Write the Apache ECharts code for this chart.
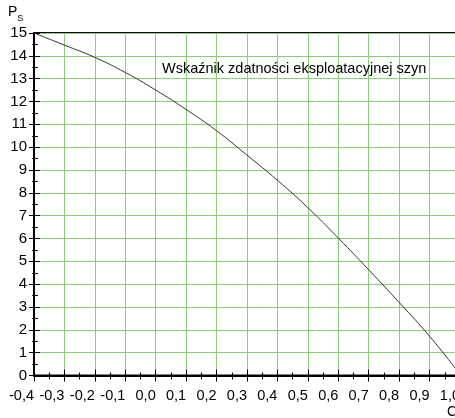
<!DOCTYPE html>
<html>
<head>
<meta charset="utf-8">
<script src="https://cdn.jsdelivr.net/npm/echarts@6/dist/echarts.min.js"></script>
<style>
  html, body { margin: 0; padding: 0; background: #fff; }
  #chart { width: 455px; height: 418px; }
</style>
</head>
<body>
<div id="chart"></div>
<script>
// Rail serviceability index P_S as a function of C
const cValues = [-0.4, -0.3, -0.2, -0.1, 0.0, 0.1, 0.2, 0.3, 0.4, 0.5, 0.6, 0.7, 0.8, 0.9, 1.0];
const psValues = [15.0, 14.47, 13.93, 13.27, 12.5, 11.65, 10.72, 9.65, 8.55, 7.35, 6.02, 4.63, 3.2, 1.72, 0.05];
const xTickLabels = ['-0,4', '-0,3', '-0,2', '-0,1', '0,0', '0,1', '0,2', '0,3', '0,4', '0,5', '0,6', '0,7', '0,8', '0,9', '1,0'];
const yTickLabels = ['0', '1', '2', '3', '4', '5', '6', '7', '8', '9', '10', '11', '12', '13', '14', '15'];
const seriesTitle = 'Wskaźnik zdatności eksploatacyjnej szyn';

const TEXT_FONT = 'Liberation Sans, Arial, sans-serif';
const GRID_GREEN = '#8ccf78';

const chart = echarts.init(document.getElementById('chart'), null, { renderer: 'canvas' });

const xBase = { type: 'value', min: -0.4, max: 1.0, interval: 0.1, position: 'bottom', gridIndex: 0 };
const yBase = { type: 'value', min: 0, max: 15, interval: 1, position: 'left', gridIndex: 0 };

chart.setOption({
  animation: false,
  backgroundColor: '#fff',
  grid: {
    left: 34, top: 33, right: -5, bottom: 42.5,
    outerBoundsMode: 'none', containLabel: false,
    show: true, borderColor: '#000', borderWidth: 2, backgroundColor: 'transparent'
  },
  xAxis: [
    Object.assign({}, xBase, {
      axisLine: { show: true, onZero: false, lineStyle: { color: '#000', width: 2 } },
      axisTick: { show: true, inside: false, length: 6, lineStyle: { color: '#000', width: 1 } },
      minorTick: { show: true, splitNumber: 2, length: 4, lineStyle: { color: '#000', width: 1 } },
      splitLine: { show: true, lineStyle: { color: GRID_GREEN, width: 1 } },
      axisLabel: {
        margin: 13, color: '#000', fontFamily: TEXT_FONT, fontSize: 14.5,
        align: 'right', showMaxLabel: true, hideOverlap: false,
        formatter: v => xTickLabels[Math.round((v + 0.4) * 10)]
      }
    }),
    Object.assign({}, xBase, {
      axisLine: { show: false, onZero: false },
      axisTick: { show: true, inside: true, length: 6, lineStyle: { color: '#000', width: 1 } },
      minorTick: { show: true, splitNumber: 2, length: 3, lineStyle: { color: '#000', width: 1 } },
      splitLine: { show: false },
      axisLabel: { show: false }
    })
  ],
  yAxis: [
    Object.assign({}, yBase, {
      axisLine: { show: true, onZero: false, lineStyle: { color: '#000', width: 2 } },
      axisTick: { show: true, inside: false, length: 5, lineStyle: { color: '#000', width: 1 } },
      minorTick: { show: true, splitNumber: 2, length: 2, lineStyle: { color: '#000', width: 1 } },
      splitLine: { show: true, lineStyle: { color: GRID_GREEN, width: 1 } },
      axisLabel: {
        margin: 7, color: '#000', fontFamily: TEXT_FONT, fontSize: 15,
        formatter: v => yTickLabels[Math.round(v)]
      }
    }),
    Object.assign({}, yBase, {
      axisLine: { show: false, onZero: false },
      axisTick: { show: true, inside: true, length: 6, lineStyle: { color: '#000', width: 1 } },
      minorTick: { show: true, splitNumber: 2, length: 4, lineStyle: { color: '#000', width: 1 } },
      splitLine: { show: false },
      axisLabel: { show: false }
    })
  ],
  series: [{
    name: seriesTitle,
    type: 'line',
    xAxisIndex: 0,
    yAxisIndex: 0,
    data: cValues.map((c, i) => [c, psValues[i]]),
    smooth: 0.5,
    showSymbol: false,
    lineStyle: { color: '#333', width: 1 },
    z: 5
  }],
  graphic: [
    {
      type: 'text', left: 162, top: 61, z: 10,
      style: { text: seriesTitle, fill: '#000', font: '14.5px ' + TEXT_FONT }
    },
    {
      type: 'text', left: 8, top: 5, z: 10,
      style: {
        text: '{p|P}{s|S}',
        rich: {
          p: { fontFamily: TEXT_FONT, fontSize: 14, fill: '#000', verticalAlign: 'top' },
          s: { fontFamily: TEXT_FONT, fontSize: 9, fill: '#000', padding: [9, 0, 0, 0] }
        }
      }
    },
    {
      type: 'text', left: 447, top: 405, z: 10,
      style: { text: 'C', fill: '#000', font: '14px ' + TEXT_FONT }
    }
  ]
});
</script>
</body>
</html>
